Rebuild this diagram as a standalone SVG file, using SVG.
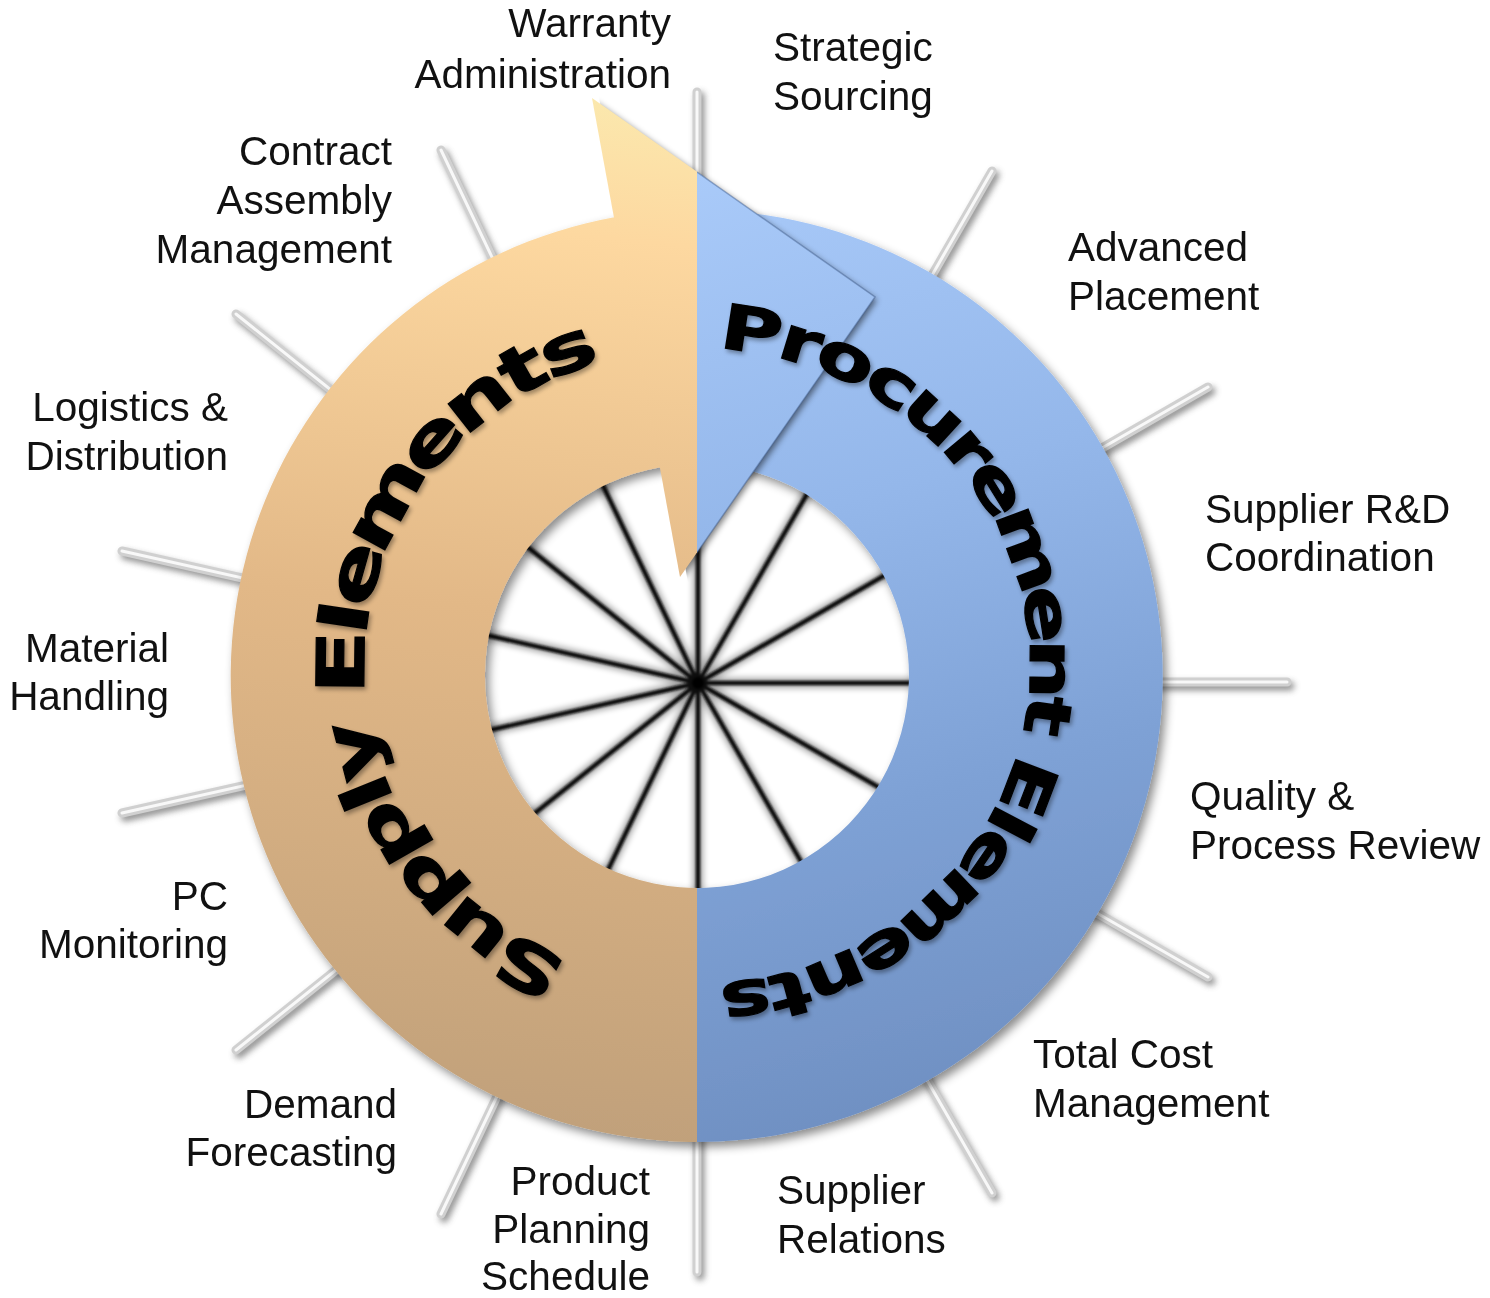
<svg xmlns="http://www.w3.org/2000/svg" width="1490" height="1298" viewBox="0 0 1490 1298">
<style>
.lbl{font-family:"Liberation Sans",Arial,sans-serif;font-size:40.5px;fill:#111}
.e{text-anchor:end}
.big{font-family:"DejaVu Sans",Verdana,sans-serif;font-weight:bold;fill:#000;stroke:#000;stroke-width:1.2;text-anchor:middle}
.s{font-size:66px}
.p{font-size:62px}
.tick{stroke:#d0d0d0;stroke-width:9;stroke-linecap:round}
.tickh{stroke:#f8f8f8;stroke-width:3;stroke-linecap:round}
.tsh{stroke:#6e6e6e;stroke-width:9;stroke-linecap:round}
.spk{stroke:#111;stroke-width:4.5}
.spksh{stroke:#000;stroke-width:10;opacity:.35}
</style>
<defs>
<linearGradient id="gOr" gradientUnits="userSpaceOnUse" x1="660" y1="95" x2="560" y2="1145">
<stop offset="0" stop-color="#fbe9ae"/>
<stop offset="0.14" stop-color="#fdd8a0"/>
<stop offset="0.5" stop-color="#e2b887"/>
<stop offset="1" stop-color="#c0a07a"/>
</linearGradient>
<linearGradient id="gBl" gradientUnits="userSpaceOnUse" x1="720" y1="170" x2="1000" y2="1140">
<stop offset="0" stop-color="#a9caf9"/>
<stop offset="0.35" stop-color="#94b7ea"/>
<stop offset="0.65" stop-color="#7ea1d5"/>
<stop offset="1" stop-color="#6d8dbf"/>
</linearGradient>
<filter id="shRing" x="-10%" y="-10%" width="125%" height="125%">
<feDropShadow dx="4" dy="5" stdDeviation="5" flood-color="#000" flood-opacity="0.45"/>
</filter>
<filter id="shTxt" x="-10%" y="-10%" width="120%" height="120%">
<feDropShadow dx="2" dy="3" stdDeviation="2" flood-color="#000" flood-opacity="0.35"/>
</filter>
<filter id="blur3" x="-20%" y="-20%" width="140%" height="140%">
<feGaussianBlur stdDeviation="3"/>
</filter>
<filter id="blur1"><feGaussianBlur stdDeviation="0.8"/></filter>
<clipPath id="cL"><rect x="0" y="0" width="697" height="1298"/></clipPath>
<clipPath id="cR"><rect x="697" y="0" width="793" height="1298"/></clipPath>
<clipPath id="cBase"><polygon points="581,0 1490,0 1490,700 709.6,700"/></clipPath>
<path id="body" d="M 737.6 211.8 A 466 466 0 1 1 612.9 217.6 L 624 216 L 670 466 L 659.1 467.4 A 212 212 0 1 0 715.5 464.8 Z"/>
<path id="head" d="M 592 98 L 875 297 L 680 577 Z"/>
</defs>
<rect x="0" y="0" width="1490" height="1298" fill="#fff"/>

<g id="connectors">
<g id="ticks">
<g transform="translate(3,4)" filter="url(#blur3)" opacity="0.75">
<path class="tsh" d="M697 252V92 M912 310L992 171 M1069 467L1208 387 M1127 682H1287 M1069 897L1208 977 M912 1054L992 1193 M697 1112V1272 M510 1069L441 1214 M361 950L236 1050 M278 778L122 813 M278 586L122 551 M361 414L236 314 M510 295L441 150"/>
</g>
<path class="tick" d="M697 252V92 M912 310L992 171 M1069 467L1208 387 M1127 682H1287 M1069 897L1208 977 M912 1054L992 1193 M697 1112V1272 M510 1069L441 1214 M361 950L236 1050 M278 778L122 813 M278 586L122 551 M361 414L236 314 M510 295L441 150"/>
<path class="tickh" d="M697 252V92 M912 310L992 171 M1069 467L1208 387 M1127 682H1287 M1069 897L1208 977 M912 1054L992 1193 M697 1112V1272 M510 1069L441 1214 M361 950L236 1050 M278 778L122 813 M278 586L122 551 M361 414L236 314 M510 295L441 150"/>
</g>
<g id="spokes">
<path class="spksh" filter="url(#blur3)" d="M698 683V443 M698 683L818 475 M698 683L906 563 M698 683H938 M698 683L906 803 M698 683L818 891 M698 683V923 M698 683L594 899 M698 683L510 833 M698 683L464 736 M698 683L464 630 M698 683L510 533 M698 683L594 467"/>
<path class="spk" filter="url(#blur1)" d="M698 683V443 M698 683L818 475 M698 683L906 563 M698 683H938 M698 683L906 803 M698 683L818 891 M698 683V923 M698 683L594 899 M698 683L510 833 M698 683L464 736 M698 683L464 630 M698 683L510 533 M698 683L594 467"/>
<circle cx="698" cy="683" r="6" fill="#000" filter="url(#blur1)"/>
</g>
</g>

<g id="ring" filter="url(#shRing)">
<use href="#body" fill="url(#gOr)" clip-path="url(#cL)"/>
<use href="#body" fill="url(#gBl)" clip-path="url(#cR)"/>
</g>
<g id="arrowhead">
<g clip-path="url(#cBase)">
<use href="#head" fill="#000" opacity="0.5" transform="translate(2,3)" filter="url(#blur3)"/>
</g>
<use href="#head" fill="url(#gOr)" clip-path="url(#cL)"/>
<use href="#head" fill="url(#gBl)" clip-path="url(#cR)"/>
<path d="M 697 172 L 875 297 L 680 577" fill="none" stroke="#3d5a8a" stroke-opacity="0.45" stroke-width="1.5" clip-path="url(#cR)"/>
</g>

<g id="supply-elements" filter="url(#shTxt)">
<text class="big s" transform="translate(538.9 945.8) rotate(208.35) scale(1.42 1)">S</text>
<text class="big s" transform="translate(487.4 913.1) rotate(219) scale(1.42 1)">u</text>
<text class="big s" transform="translate(443.3 872) rotate(229.61) scale(1.42 1)">p</text>
<text class="big s" transform="translate(407.9 823.8) rotate(240.26) scale(1.42 1)">p</text>
<text class="big s" transform="translate(387.9 784.5) rotate(248.13) scale(1.42 1)">l</text>
<text class="big s" transform="translate(374.6 745.5) rotate(255.53) scale(1.42 1)">y</text>
<text class="big s" transform="translate(364 662.5) rotate(270.63) scale(1.42 1)">E</text>
<text class="big s" transform="translate(367.5 620.4) rotate(278.25) scale(1.42 1)">l</text>
<text class="big s" transform="translate(376.7 579.2) rotate(285.84) scale(1.42 1)">e</text>
<text class="big s" transform="translate(404.7 513.6) rotate(298.63) scale(1.42 1)">m</text>
<text class="big s" transform="translate(447.4 455.5) rotate(311.42) scale(1.42 1)">e</text>
<text class="big s" transform="translate(490.8 416.3) rotate(321.75) scale(1.42 1)">n</text>
<text class="big s" transform="translate(533.5 389) rotate(330.6) scale(1.42 1)">t</text>
<text class="big s" transform="translate(575.4 370) rotate(338.57) scale(1.42 1)">s</text>
</g>
<g id="procurement-elements" filter="url(#shTxt)">
<text class="big p" transform="translate(748.5 351.8) rotate(8.9) scale(1.36 1)">P</text>
<text class="big p" transform="translate(794.9 362.1) rotate(17.1) scale(1.36 1)">r</text>
<text class="big p" transform="translate(837.7 377.8) rotate(25) scale(1.36 1)">o</text>
<text class="big p" transform="translate(881.1 401) rotate(33.55) scale(1.36 1)">c</text>
<text class="big p" transform="translate(921 430.7) rotate(42.28) scale(1.36 1)">u</text>
<text class="big p" transform="translate(953.3 463) rotate(50.34) scale(1.36 1)">r</text>
<text class="big p" transform="translate(979.9 498.3) rotate(58.17) scale(1.36 1)">e</text>
<text class="big p" transform="translate(1009.3 555.6) rotate(69.68) scale(1.36 1)">m</text>
<text class="big p" transform="translate(1026.1 617.2) rotate(81.18) scale(1.36 1)">e</text>
<text class="big p" transform="translate(1030 668.7) rotate(90.48) scale(1.36 1)">n</text>
<text class="big p" transform="translate(1026.4 712.7) rotate(98.44) scale(1.36 1)">t</text>
<text class="big p" transform="translate(1008.2 779.3) rotate(110.87) scale(1.36 1)">E</text>
<text class="big p" transform="translate(991.8 814) rotate(117.73) scale(1.36 1)">l</text>
<text class="big p" transform="translate(971.3 846.4) rotate(124.56) scale(1.36 1)">e</text>
<text class="big p" transform="translate(928 895) rotate(136.06) scale(1.36 1)">m</text>
<text class="big p" transform="translate(875.6 934.4) rotate(147.57) scale(1.36 1)">e</text>
<text class="big p" transform="translate(827.8 958.4) rotate(156.87) scale(1.36 1)">n</text>
<text class="big p" transform="translate(784.1 972.9) rotate(164.83) scale(1.36 1)">t</text>
<text class="big p" transform="translate(743.3 980.9) rotate(172.01) scale(1.36 1)">s</text>
</g>

<g id="warranty-administration"><text class="lbl e" x="671" y="37">Warranty</text><text class="lbl e" x="671" y="88">Administration</text></g>
<g id="strategic-sourcing"><text class="lbl" x="773" y="61">Strategic</text><text class="lbl" x="773" y="110">Sourcing</text></g>
<g id="contract-assembly-management"><text class="lbl e" x="392" y="165">Contract</text><text class="lbl e" x="392" y="214">Assembly</text><text class="lbl e" x="392" y="263">Management</text></g>
<g id="advanced-placement"><text class="lbl" x="1068" y="261">Advanced</text><text class="lbl" x="1068" y="310">Placement</text></g>
<g id="logistics-distribution"><text class="lbl e" x="228" y="421">Logistics &amp;</text><text class="lbl e" x="228" y="470">Distribution</text></g>
<g id="supplier-rd-coordination"><text class="lbl" x="1205" y="523">Supplier R&amp;D</text><text class="lbl" x="1205" y="571">Coordination</text></g>
<g id="material-handling"><text class="lbl e" x="169" y="662">Material</text><text class="lbl e" x="169" y="710">Handling</text></g>
<g id="quality-process-review"><text class="lbl" x="1190" y="810">Quality &amp;</text><text class="lbl" x="1190" y="859">Process Review</text></g>
<g id="pc-monitoring"><text class="lbl e" x="228" y="910">PC</text><text class="lbl e" x="228" y="958">Monitoring</text></g>
<g id="total-cost-management"><text class="lbl" x="1033" y="1068">Total Cost</text><text class="lbl" x="1033" y="1117">Management</text></g>
<g id="demand-forecasting"><text class="lbl e" x="397" y="1118">Demand</text><text class="lbl e" x="397" y="1166">Forecasting</text></g>
<g id="product-planning-schedule"><text class="lbl e" x="650" y="1195">Product</text><text class="lbl e" x="650" y="1243">Planning</text><text class="lbl e" x="650" y="1290">Schedule</text></g>
<g id="supplier-relations"><text class="lbl" x="777" y="1204">Supplier</text><text class="lbl" x="777" y="1253">Relations</text></g>
</svg>
